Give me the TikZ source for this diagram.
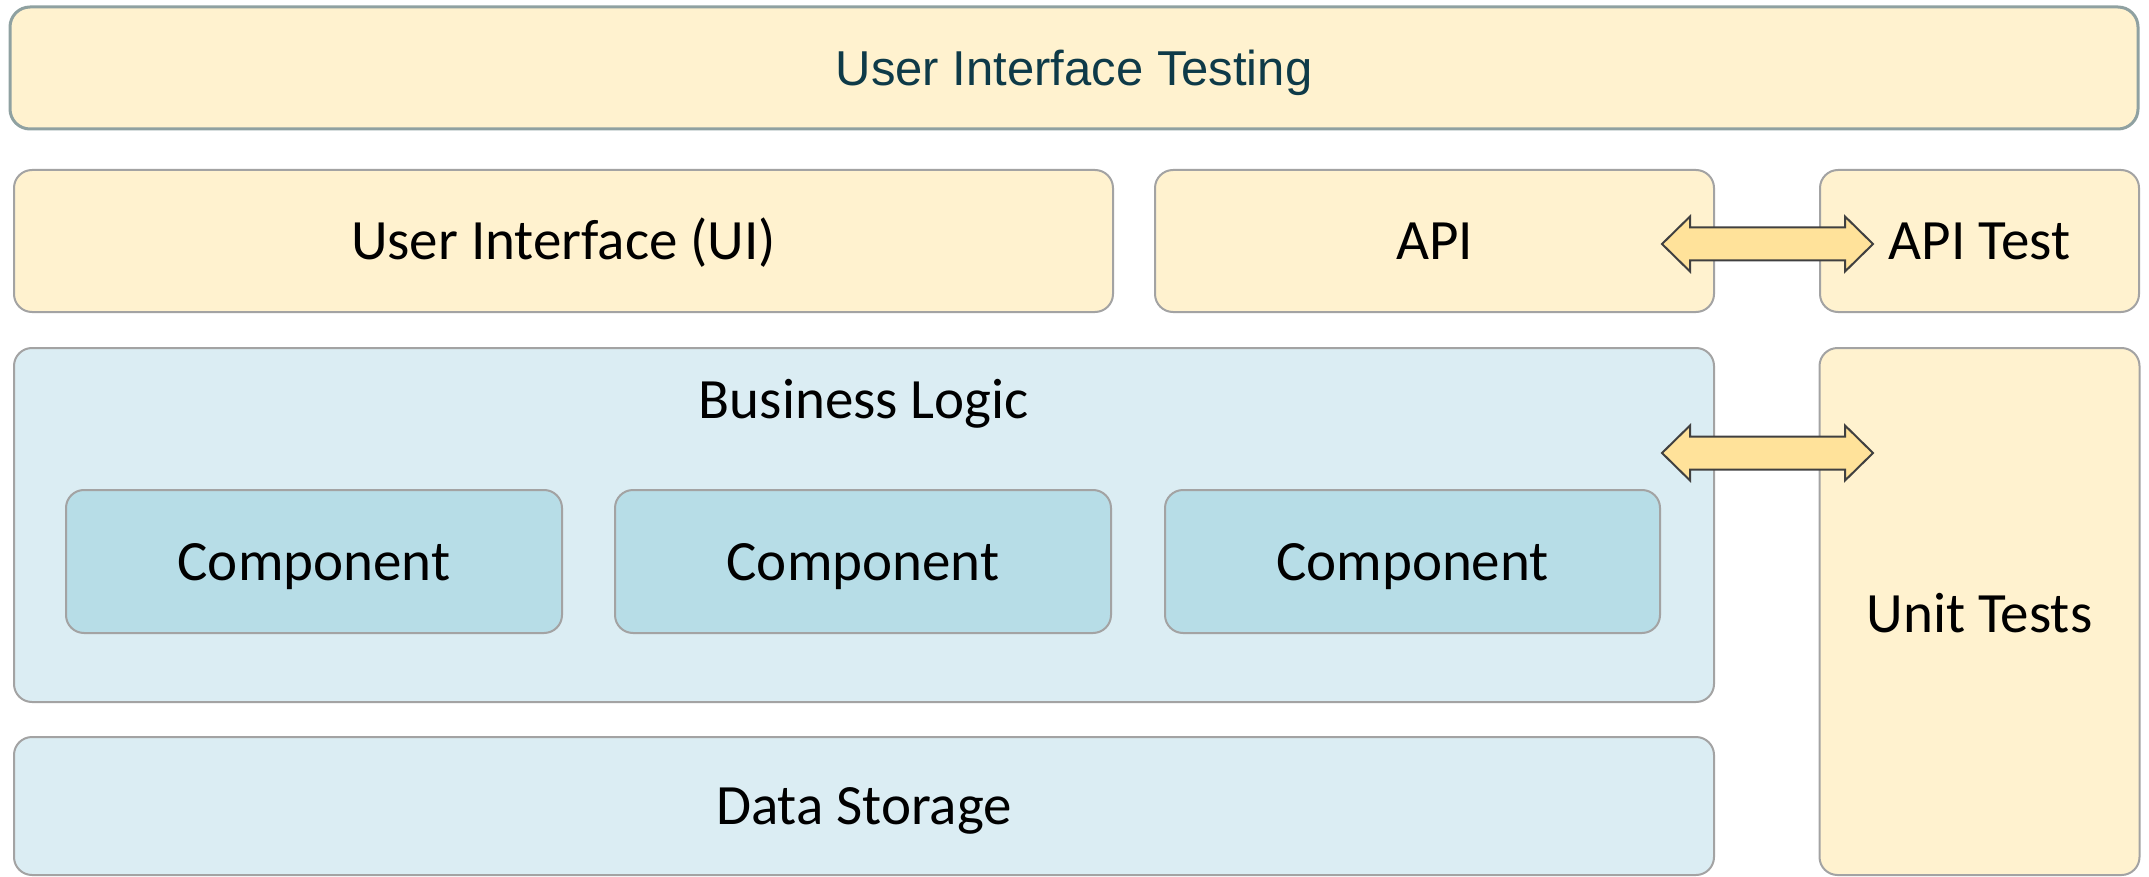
\documentclass[tikz,border=0pt]{standalone}
\usepackage{fontspec}
\setmainfont{Carlito}
\newfontfamily\arialf{Liberation Sans}
\definecolor{cream}{HTML}{FFF2CF}
\definecolor{lblue}{HTML}{DBEDF3}
\definecolor{cblue}{HTML}{B7DDE7}
\definecolor{bgray}{HTML}{A3A3A3}
\definecolor{tgray}{HTML}{8FA1A1}
\definecolor{afill}{HTML}{FFE29A}
\definecolor{aline}{HTML}{404040}
\definecolor{ttext}{HTML}{0E3A48}
\tikzset{
  box/.style={draw=bgray, line width=2pt, rounded corners=18pt, inner sep=0pt,
    font=\fontsize{57}{60}\selectfont, text height=37pt, text depth=0pt, text=black},
  ybox/.style={box, fill=cream},
  bbox/.style={box, fill=lblue},
  cbox/.style={box, fill=cblue},
  topbox/.style={draw=tgray, line width=3pt, rounded corners=20pt, fill=cream, inner sep=0pt,
    font=\arialf\fontsize{49}{52}\selectfont, text=ttext, text height=36pt, text depth=0pt},
  lbl/.style={inner sep=0pt, font=\fontsize{57}{60}\selectfont, text height=37pt, text depth=0pt},
  barrow/.style={draw=aline, line width=2pt, fill=afill, line join=miter}
}
\begin{document}
\begin{tikzpicture}[x=1pt,y=-1pt]
\useasboundingbox (0,0) rectangle (2149,877);
\node[topbox, minimum width=2128pt, minimum height=122pt] (uit) at (1074,68) {User Interface Testing};
\node[ybox, minimum width=1099pt, minimum height=142pt] (ui) at (563.5,241) {User Interface (UI)};
\node[ybox, minimum width=559pt, minimum height=142pt] (api) at (1434.5,241) {API};
\node[ybox, minimum width=319pt, minimum height=142pt] (apit) at (1979.5,241) {API Test};
\node[bbox, minimum width=1700pt, minimum height=354pt] (bl) at (864,525) {};
\node[lbl] (bll) at (864,400) {Business Logic};
\node[cbox, minimum width=496pt, minimum height=143pt] (c1) at (314,561.5) {Component};
\node[cbox, minimum width=496pt, minimum height=143pt] (c2) at (863,561.5) {Component};
\node[cbox, minimum width=495pt, minimum height=143pt] (c3) at (1412.5,561.5) {Component};
\node[ybox, minimum width=320pt, minimum height=527pt] (ut) at (1979.5,611.5) {};
\node[lbl] (utl) at (1979.5,613.5) {Unit Tests};
\node[bbox, minimum width=1700pt, minimum height=138pt] (ds) at (864,806) {Data Storage};
\coordinate (a1) at (1662,244);
\coordinate (a2) at (1662,453);
\foreach \a in {a1,a2}{
  \draw[barrow] (\a) -- ++(28,-27.5) -- ++(0,11) -- ++(155,0) -- ++(0,-11) -- ++(28,27.5)
    -- ++(-28,27.5) -- ++(0,-11) -- ++(-155,0) -- ++(0,11) -- cycle;
}
\end{tikzpicture}
\end{document}
